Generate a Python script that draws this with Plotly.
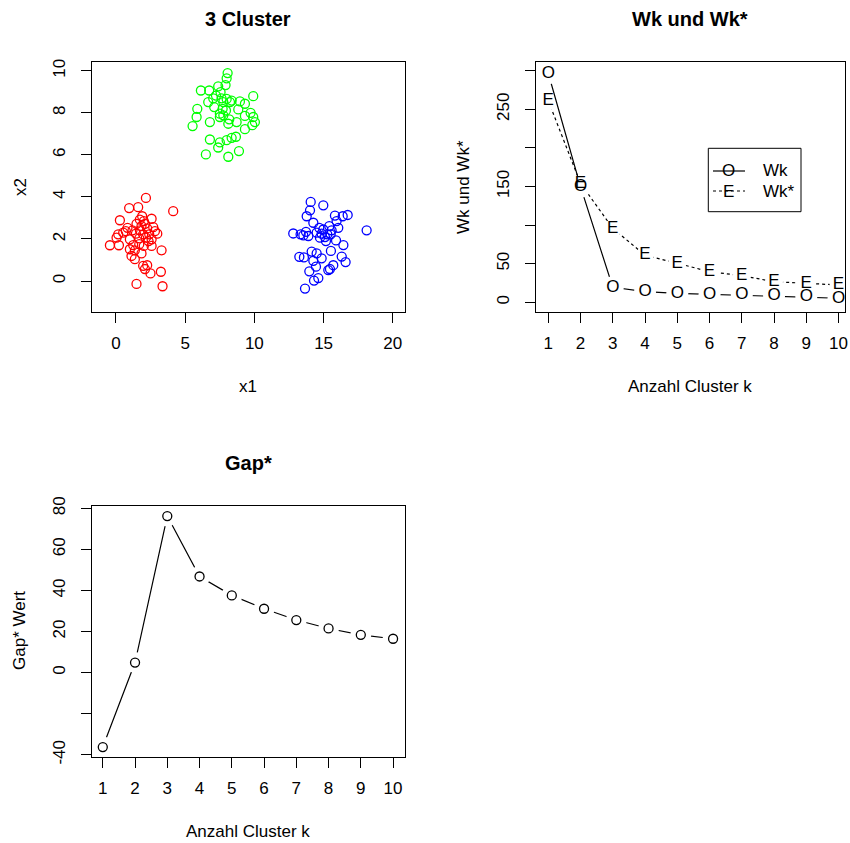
import plotly.graph_objects as go

W, H = 850, 843

# ---------------- data ----------------
red_x = [2.17, 0.96, 1.61, 4.14, 0.29, 1.90, 2.58, 2.02, 1.49, 1.85, 0.84, 2.70, 2.26, 1.73, 2.82,
         0.53, 0.17, 0.05, 1.45, 1.97, 2.41, 2.99, 1.01, 1.69, 2.17, 2.58, -0.43, 0.22, 1.25, 1.69,
         2.02, 2.58, 1.01, 1.37, 1.85, 3.30, 1.13, 1.37, 1.97, 2.26, 2.10, 2.50, 3.25, 1.49, 3.37,
         0.72, 1.20, 2.10, 1.73, 2.36]
red_y = [3.95, 3.47, 3.51, 3.32, 2.89, 3.08, 2.96, 2.85, 2.72, 2.61, 2.53, 2.56, 2.50, 2.41, 2.37,
         2.30, 2.22, 2.06, 2.25, 2.22, 2.22, 2.25, 1.98, 2.03, 2.06, 1.98, 1.70, 1.70, 1.71, 1.75,
         1.67, 1.67, 1.51, 1.46, 1.31, 1.46, 1.19, 1.04, 0.72, 0.75, 0.57, 0.36, 0.44, -0.14, -0.25,
         2.37, 2.41, 2.72, 2.92, 1.90]

green_x = [8.07, 8.00, 7.92, 6.14, 6.74, 7.39, 7.56, 7.23, 7.03, 9.92, 6.67, 7.63, 8.00, 8.36, 8.96,
           9.32, 7.10, 7.71, 7.95, 8.24, 8.84, 5.88, 7.51, 7.76, 7.51, 5.83, 9.32, 9.73, 9.92, 10.04,
           9.85, 5.54, 6.79, 8.12, 8.72, 9.32, 6.79, 7.51, 8.00, 8.36, 8.67, 7.39, 6.50, 8.12, 8.89,
           8.19, 7.76]
green_y = [9.89, 9.64, 9.32, 9.06, 9.06, 9.26, 8.98, 8.82, 8.69, 8.79, 8.51, 8.69, 8.66, 8.58, 8.54,
           8.43, 8.27, 8.19, 8.11, 8.51, 8.16, 8.19, 7.96, 7.88, 7.80, 7.80, 7.85, 8.00, 7.80, 7.56,
           7.41, 7.37, 7.56, 7.48, 7.56, 7.22, 6.73, 6.59, 6.70, 6.81, 6.86, 6.35, 6.02, 5.91, 6.18,
           7.69, 8.51]

blue_x = [14.07, 14.98, 14.02, 13.78, 15.82, 16.38, 16.74, 14.26, 15.41, 15.94, 18.11, 12.81, 13.34,
          13.73, 13.90, 14.69, 14.98, 15.27, 15.58, 16.06, 14.74, 15.10, 15.90, 16.43, 15.51, 14.50,
          13.25, 13.58, 14.14, 14.50, 14.86, 14.26, 15.53, 16.31, 16.59, 14.45, 13.97, 15.34, 15.70,
          15.46, 14.62, 14.31, 13.66, 14.86, 15.17, 13.54]
blue_y = [3.76, 3.60, 3.36, 3.08, 3.11, 3.08, 3.14, 2.77, 2.61, 2.85, 2.41, 2.26, 2.22, 2.34, 2.14,
          2.53, 2.45, 2.22, 2.41, 2.53, 2.06, 2.09, 1.93, 1.71, 2.22, 2.30, 1.15, 1.12, 1.40, 1.31,
          1.08, 0.96, 1.43, 1.16, 0.90, 0.68, 0.46, 0.52, 0.75, 0.57, 0.14, 0.02, -0.36, 2.25, 1.90,
          2.17]

k = [1, 2, 3, 4, 5, 6, 7, 8, 9, 10]
wk = [296.6, 149.7, 19.4, 13.8, 11.6, 10.3, 9.4, 8.6, 7.3, 5.2]
wk_star = [261.0, 154.0, 95.8, 61.0, 50.5, 39.6, 34.5, 26.7, 24.6, 22.4]
gap_star = [-36.2, 4.9, 76.2, 46.8, 37.6, 31.1, 25.6, 21.5, 18.4, 16.5]

scatter_xticks = [0, 5, 10, 15, 20]
scatter_yticks = [0, 2, 4, 6, 8, 10]
wk_yticks = [0, 50, 100, 150, 200, 250, 300]
wk_ytext = ["0", "50", "", "150", "", "250", ""]
gap_yticks = [-40, -20, 0, 20, 40, 60, 80]
gap_ytext = ["-40", "", "0", "20", "40", "60", "80"]

FONT = "Liberation Sans, Arial, Helvetica, sans-serif"
FS = 17

def px(x):
    return x / W

def py(y):
    return 1 - y / H

fig = go.Figure()

# ---------- panel 1: scatter ----------
for xs, ys, col in [(red_x, red_y, "#FF0000"), (green_x, green_y, "#00FF00"), (blue_x, blue_y, "#0000FF")]:
    fig.add_trace(go.Scatter(x=xs, y=ys, mode="markers", xaxis="x", yaxis="y",
                             marker=dict(symbol="circle-open", size=9, color=col, line=dict(width=1.3, color=col)),
                             showlegend=False, hoverinfo="skip"))

# ---------- panel 2: Wk ----------
fig.add_trace(go.Scatter(x=k, y=wk_star, mode="lines+markers", xaxis="x2", yaxis="y2",
                         line=dict(color="black", width=1.2, dash="dot"),
                         marker=dict(symbol="circle", size=18, color="white", line=dict(width=0)),
                         showlegend=False, hoverinfo="skip"))
fig.add_trace(go.Scatter(x=k, y=wk, mode="lines+markers", xaxis="x2", yaxis="y2",
                         line=dict(color="black", width=1.2),
                         marker=dict(symbol="circle", size=22, color="white", line=dict(width=0)),
                         showlegend=False, hoverinfo="skip"))
fig.add_trace(go.Scatter(x=k, y=wk_star, mode="text", text=["E"] * len(k), xaxis="x2", yaxis="y2",
                         textposition="middle center", textfont=dict(family=FONT, size=FS, color="black"),
                         showlegend=False, hoverinfo="skip", cliponaxis=False))
fig.add_trace(go.Scatter(x=k, y=wk, mode="text", text=["O"] * len(k), xaxis="x2", yaxis="y2",
                         textposition="middle center", textfont=dict(family=FONT, size=FS, color="black"),
                         showlegend=False, hoverinfo="skip", cliponaxis=False))

# ---------- panel 3: Gap* ----------
fig.add_trace(go.Scatter(x=k, y=gap_star, mode="lines+markers", xaxis="x3", yaxis="y3",
                         line=dict(color="black", width=1.2),
                         marker=dict(symbol="circle", size=21, color="white", line=dict(width=0)),
                         showlegend=False, hoverinfo="skip"))
fig.add_trace(go.Scatter(x=k, y=gap_star, mode="markers", xaxis="x3", yaxis="y3",
                         marker=dict(symbol="circle-open", size=9, color="black", line=dict(width=1.3, color="black")),
                         showlegend=False, hoverinfo="skip", cliponaxis=False))

axis_common = dict(showline=True, linecolor="black", linewidth=1, mirror=True, ticks="outside",
                   ticklen=10, tickwidth=1, tickcolor="black", showgrid=False, zeroline=False,
                   tickfont=dict(family=FONT, size=FS, color="black"), tickmode="array",
                   automargin=False)
xax = dict(**axis_common, ticklabelstandoff=6)
yax = dict(**axis_common, ticklabelstandoff=9, tickangle=-90)

dom_x_left = [px(91.5), px(405)]
dom_x_right = [px(535.7), px(845)]
dom_y_top = [py(311.7), py(61.7)]
dom_y_bot = [py(756.7), py(506)]

fig.update_layout(
    template="none",
    width=W, height=H,
    margin=dict(l=0, r=0, t=0, b=0, pad=0, autoexpand=False),
    paper_bgcolor="white", plot_bgcolor="white",
    font=dict(family=FONT, size=FS, color="black"),
    xaxis=dict(**xax, domain=dom_x_left, range=[-1.76, 20.88], tickvals=scatter_xticks,
               ticktext=[str(v) for v in scatter_xticks], anchor="y"),
    yaxis=dict(**yax, domain=dom_y_top, range=[-1.46, 10.43], tickvals=scatter_yticks,
               ticktext=[str(v) for v in scatter_yticks], anchor="x"),
    xaxis2=dict(**xax, domain=dom_x_right, range=[0.61, 10.2], tickvals=k,
                ticktext=[str(v) for v in k], anchor="y2"),
    yaxis2=dict(**yax, domain=dom_y_top, range=[-12.2, 311.6], tickvals=wk_yticks,
                ticktext=wk_ytext, anchor="x2"),
    xaxis3=dict(**xax, domain=dom_x_left, range=[0.65, 10.37], tickvals=k,
                ticktext=[str(v) for v in k], anchor="y3"),
    yaxis3=dict(**yax, domain=dom_y_bot, range=[-40.9, 81.1], tickvals=gap_yticks,
                ticktext=gap_ytext, anchor="x3"),
)

ann = []
def txt(x, y, s, size=FS, bold=False, angle=0, xanchor="center"):
    ann.append(dict(x=px(x), y=py(y), xref="paper", yref="paper", text=("<b>%s</b>" % s) if bold else s,
                    showarrow=False, textangle=angle, xanchor=xanchor, yanchor="middle",
                    font=dict(family=FONT, size=size, color="black")))

# titles
txt(248, 19, "3 Cluster", size=20, bold=True)
txt(690, 19, "Wk und Wk*", size=20, bold=True)
txt(248, 463, "Gap*", size=20, bold=True)
# axis titles
txt(248, 386, "x1")
txt(20, 187, "x2", angle=-90)
txt(690, 386, "Anzahl Cluster k")
txt(463, 187, "Wk und Wk*", angle=-90)
txt(248, 831, "Anzahl Cluster k")
txt(19, 631, "Gap* Wert", angle=-90)
# legend
txt(728, 170.5, "O")
txt(728, 191, "E")
txt(761, 170.5, "Wk", xanchor="left")
txt(761, 191, "Wk*", xanchor="left")

shapes = [
    dict(type="rect", xref="paper", yref="paper", x0=px(708.3), x1=px(801), y0=py(211.7), y1=py(148.3),
         line=dict(color="black", width=1), fillcolor="rgba(0,0,0,0)"),
    dict(type="line", xref="paper", yref="paper", x0=px(713), x1=px(745), y0=py(171), y1=py(171),
         line=dict(color="black", width=1.2)),
    dict(type="line", xref="paper", yref="paper", x0=px(713), x1=px(745), y0=py(191), y1=py(191),
         line=dict(color="black", width=1.2, dash="dot")),
]

fig.update_layout(annotations=ann, shapes=shapes)

fig.write_html("out.html")
